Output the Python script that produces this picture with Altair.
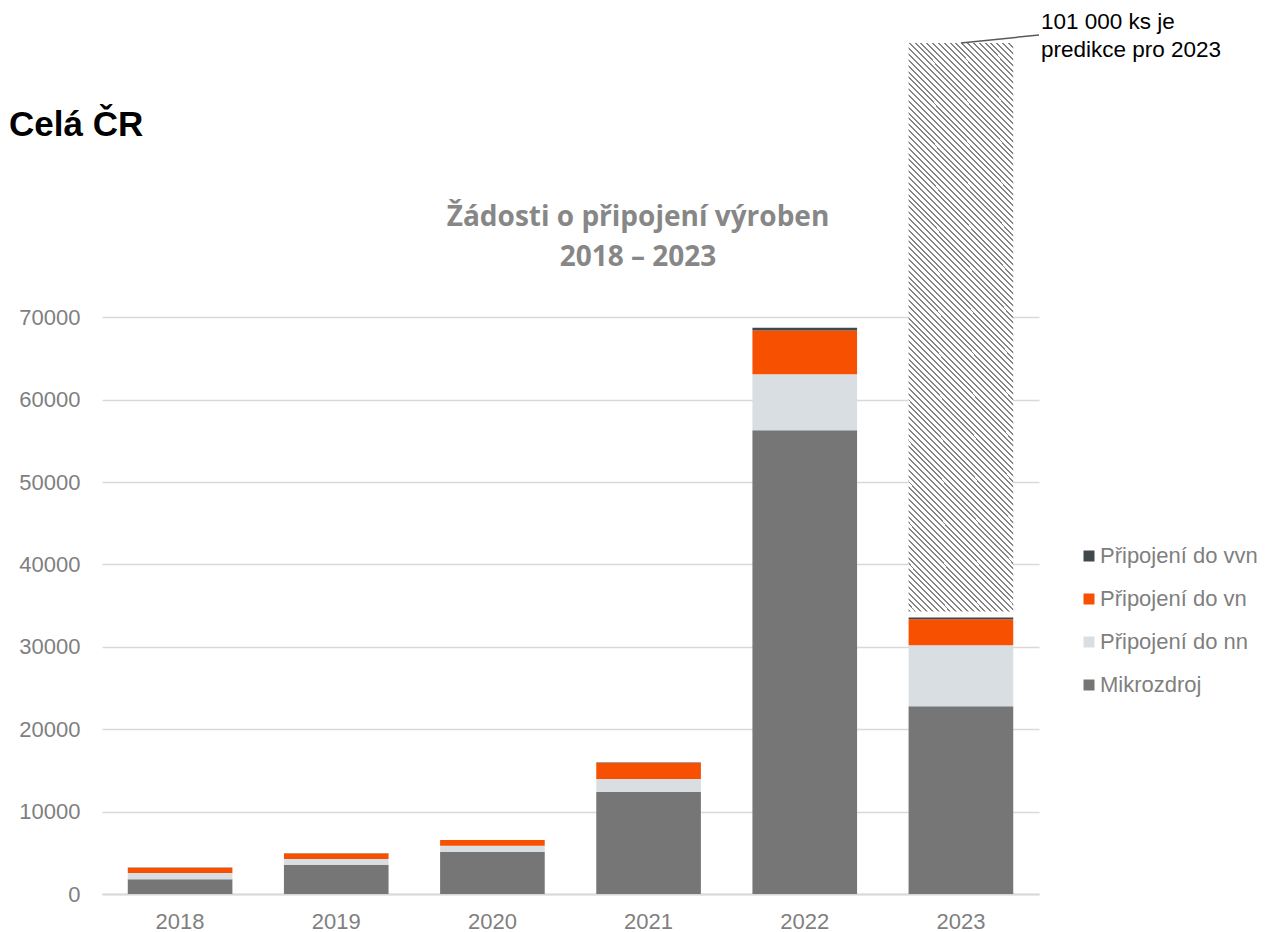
import altair as alt
import pandas as pd

years = ["2018", "2019", "2020", "2021", "2022", "2023"]
series = ["Připojení do vvn", "Připojení do vn", "Připojení do nn", "Mikrozdroj"]
mikro = [1800, 3550, 5120, 12370, 56300, 22800]
nn = [750, 700, 740, 1580, 6800, 7400]
vn = [650, 680, 690, 1950, 5300, 3160]
vvn = [20, 20, 20, 50, 350, 210]
pred_year = "2023"
pred_low = 34300
pred_high = 103300
y_ticks = [0, 10000, 20000, 30000, 40000, 50000, 60000, 70000]
colors = ["#3f494c", "#f75000", "#d9dee2", "#767676"]

rows = []
for i, y in enumerate(years):
    for order, (name, vals) in enumerate(
        [("Mikrozdroj", mikro), ("Připojení do nn", nn), ("Připojení do vn", vn), ("Připojení do vvn", vvn)]
    ):
        rows.append({"year": y, "series": name, "value": vals[i], "ord": order})
df = pd.DataFrame(rows)

pred_df = pd.DataFrame({"year": [pred_year], "low": [pred_low], "high": [pred_high]})

# hatch pattern as hard-stop linear gradient (45 deg in pixel space)
W, H = 105.0, 568.0
t = (W + H) / (W * W + H * H)
periods = 115
stops = []
for k in range(periods):
    o0 = k / periods
    o1 = (k + 0.34) / periods
    o2 = (k + 1) / periods
    stops += [
        alt.GradientStop(offset=o0, color="#858585"),
        alt.GradientStop(offset=o1, color="#858585"),
        alt.GradientStop(offset=o1, color="#ffffff"),
        alt.GradientStop(offset=o2, color="#ffffff"),
    ]
hatch = alt.LinearGradient(gradient="linear", stops=stops, x1=0, y1=1, x2=t * W, y2=1 - t * H)

xscale = alt.Scale(domain=years, paddingInner=0.33, paddingOuter=0.165)
yscale = alt.Scale(domain=[0, 105000], nice=False, zero=True)

FONT = "Liberation Sans"

x_enc = alt.X(
    "year:N",
    scale=xscale,
    axis=alt.Axis(
        title=None, labelAngle=0, ticks=False, domain=True, domainColor="#d9d9d9", domainWidth=2,
        labelFont=FONT, labelFontSize=22, labelColor="#7f7f7f", labelPadding=17, grid=False,
    ),
)

bars = alt.Chart(df).mark_bar().encode(
    x=x_enc,
    y=alt.Y(
        "value:Q",
        stack="zero",
        scale=yscale,
        axis=alt.Axis(
            title=None, values=y_ticks, format="d", ticks=False, domain=False,
            grid=True, gridColor="#d9d9d9", gridWidth=1.6,
            labelFont=FONT, labelFontSize=22, labelColor="#7f7f7f", labelPadding=22,
        ),
    ),
    color=alt.Color(
        "series:N",
        scale=alt.Scale(domain=series, range=colors),
        legend=alt.Legend(
            title=None, orient="none", legendX=976, legendY=516, symbolType="square",
            symbolSize=121, symbolStrokeWidth=0, symbolOpacity=1, labelFont=FONT,
            labelFontSize=22, labelColor="#7f7f7f", labelOffset=0, rowPadding=21, padding=0,
            labelLimit=400,
        ),
    ),
    order=alt.Order("ord:Q", sort="ascending"),
)

pred = alt.Chart(pred_df).mark_bar(fill=hatch).encode(
    x=alt.X("year:N", scale=xscale),
    y=alt.Y("low:Q", scale=yscale),
    y2="high:Q",
)

leader = alt.Chart(pred_df).mark_rule(color="#595959", strokeWidth=1.5).encode(
    x=alt.X("year:N", scale=xscale),
    y=alt.Y("high:Q", scale=yscale),
    x2=alt.value(937),
    y2=alt.value(6),
)

note = alt.Chart(pd.DataFrame({"t": [["101 000 ks je", "predikce pro 2023"]]})).mark_text(
    align="left", baseline="alphabetic", font=FONT, fontSize=22.5, color="#000000", lineHeight=28.5
).encode(text="t:N", x=alt.value(939), y=alt.value(-0.5))

title_main = alt.Chart(pd.DataFrame({"t": ["Celá ČR"]})).mark_text(
    align="left", baseline="alphabetic", font=FONT, fontSize=35, fontWeight="bold", color="#000000"
).encode(text="t:N", x=alt.value(-93), y=alt.value(107))

title_chart = alt.Chart(pd.DataFrame({"t": [["Žádosti o připojení výroben", "2018 – 2023"]]})).mark_text(
    align="center", baseline="alphabetic", font="Open Sans", fontSize=28, fontWeight="bold", color="#878787", lineHeight=40
).encode(text="t:N", x=alt.value(536), y=alt.value(197))

chart = alt.layer(bars, pred, leader, note, title_main, title_chart).properties(
    width=937,
    height=865,
    padding={"left": 94, "top": 21, "right": 224, "bottom": 42},
    autosize=alt.AutoSizeParams(type="none"),
).configure_view(stroke=None)

chart.save("out.html", embed_options={"renderer": "svg", "actions": False})
